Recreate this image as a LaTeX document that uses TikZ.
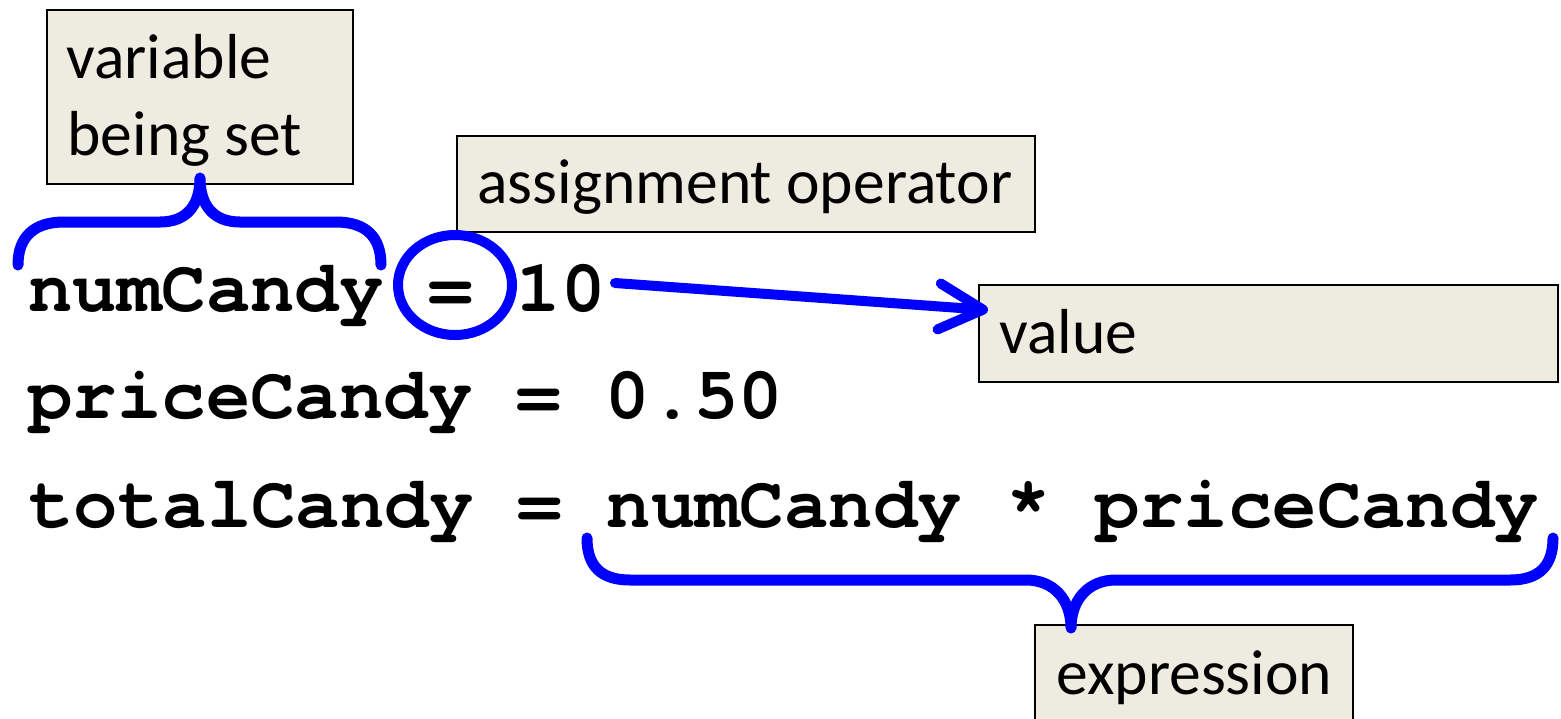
\documentclass[tikz,border=0pt]{standalone}
\usepackage{fontspec}
\setmainfont{Carlito}
\newfontfamily\codefont{TeX Gyre Cursor}
\usetikzlibrary{arrows.meta,shapes.geometric}
\definecolor{boxfill}{HTML}{EEECE1}
\definecolor{accent}{HTML}{0000FF}
\tikzset{
  lblbox/.style={draw=black, line width=0.75pt, fill=boxfill, anchor=north west, inner sep=0pt},
  lbltext/.style={font=\fontsize{31.8pt}{37pt}\selectfont, anchor=base west, inner sep=0pt},
  codetext/.style={font=\codefont\bfseries\fontsize{37pt}{44pt}\selectfont, anchor=base west, inner sep=0pt},
  bracket/.style={draw=accent, line width=5.5pt, line cap=round, line join=round},
}
\begin{document}
\begin{tikzpicture}[x=0.5pt, y=-0.5pt]
\useasboundingbox (0,0) rectangle (1561,718);
% boxes
\node (vbox) [lblbox, minimum width=153pt, minimum height=87pt] at (46,9) {};
\node (abox) [lblbox, minimum width=289pt, minimum height=48pt] at (456,135) {};
\node (valbox) [lblbox, minimum width=289.5pt, minimum height=48.5pt] at (978,284) {};
\node (ebox) [lblbox, minimum width=159pt, minimum height=52pt] at (1034,624) {};
% label texts
\node (t1) [lbltext] at (66,78) {variable};
\node (t2) [lbltext] at (67,155) {being set};
\node (t3) [lbltext] at (477,203) {assignment operator};
\node (t4) [lbltext] at (999,353) {value};
\node (t5) [lbltext] at (1056,694) {expression};
% code
\node (c1) [codetext] at (28,311) {numCandy = 10};
\node (c2) [codetext] at (28,418) {priceCandy = 0.50};
\node (c3) [codetext] at (29,527) {totalCandy = numCandy * priceCandy};
% brace over numCandy
\draw[bracket] (18,265) .. controls (18,236) and (35,222) .. (64,222) -- (160,222)
  .. controls (186,222) and (200,206) .. (200,178)
  .. controls (200,206) and (214,222) .. (240,222) -- (336,222)
  .. controls (365,222) and (381,236) .. (381,265);
% circle around =
\node (eqring) [draw=accent, line width=5pt, ellipse, minimum width=57pt, minimum height=50pt, inner sep=0pt] at (455,285) {};
% arrow
\coordinate (tenend) at (615,283);
\coordinate (valtip) at (988,310);
\draw[accent, line width=5pt, line cap=round, -{Straight Barb[length=22pt, width=23pt, round]}] (tenend) -- (valtip);
% brace under expression
\draw[bracket] (587,538) .. controls (587,566) and (601,580) .. (630,580) -- (1026,580)
  .. controls (1054,580) and (1071,600) .. (1071,628)
  .. controls (1071,600) and (1088,580) .. (1116,580) -- (1510,580)
  .. controls (1539,580) and (1553,566) .. (1553,538);
\end{tikzpicture}
\end{document}
